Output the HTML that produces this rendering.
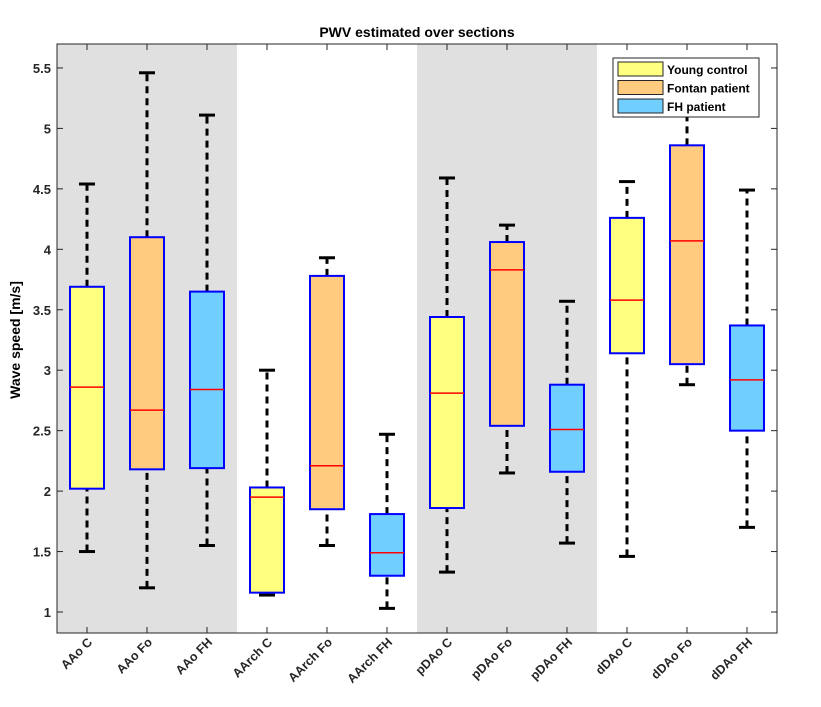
<!DOCTYPE html>
<html><head><meta charset="utf-8"><style>
body{margin:0;background:#fff;}
svg{display:block;font-family:"Liberation Sans",Arial,sans-serif;}
</style></head><body>
<svg id="chart" width="821" height="707" viewBox="0 0 821 707"></svg>
<script>
const categories=["AAo C","AAo Fo","AAo FH","AArch C","AArch Fo","AArch FH","pDAo C","pDAo Fo","pDAo FH","dDAo C","dDAo Fo","dDAo FH"];
const groups=["C","Fo","FH","C","Fo","FH","C","Fo","FH","C","Fo","FH"];
const whiskerLow=[1.5,1.2,1.55,1.14,1.55,1.03,1.33,2.15,1.57,1.46,2.88,1.70];
const q1=[2.02,2.18,2.19,1.16,1.85,1.30,1.86,2.54,2.16,3.14,3.05,2.50];
const median=[2.86,2.67,2.84,1.95,2.21,1.49,2.81,3.83,2.51,3.58,4.07,2.92];
const q3=[3.69,4.10,3.65,2.03,3.78,1.81,3.44,4.06,2.88,4.26,4.86,3.37];
const whiskerHigh=[4.54,5.46,5.11,3.0,3.93,2.47,4.59,4.20,3.57,4.56,5.3,4.49];
const yTicks=[1,1.5,2,2.5,3,3.5,4,4.5,5,5.5];
const fills={C:"#ffff80",Fo:"#ffcc7f",FH:"#70cfff"};
const legendLabels=["Young control","Fontan patient","FH patient"];
const legendKeys=["C","Fo","FH"];

const L=57,R=777,T=44,B=633;
const y=v=>612-(v-1)*120.9;
const x=i=>L+(i+0.5)*(R-L)/categories.length;
const S=document.getElementById('chart');
const NS="http://www.w3.org/2000/svg";
function mk(tag,at,parent){const e=document.createElementNS(NS,tag);for(const k in at)e.setAttribute(k,at[k]);(parent||S).appendChild(e);return e;}

for(let g=0;g<4;g+=2){
  const r=mk('rect',{x:x(g*3)-30,y:T,width:180,height:B-T,fill:"#e0e0e0"});
  
  
}
const ax=mk('rect',{x:L,y:T,width:R-L,height:B-T,fill:"none",stroke:"#262626","stroke-width":1});


yTicks.forEach(t=>{
  mk('line',{x1:L,x2:L+6,y1:y(t),y2:y(t),stroke:"#262626"});
  mk('line',{x1:R,x2:R-6,y1:y(t),y2:y(t),stroke:"#262626"});
  const tx=mk('text',{x:L-6,y:y(t)+5,"text-anchor":"end","font-size":13,"font-weight":"bold",fill:"#262626"});
  tx.textContent=String(t);
  
  
});
categories.forEach((c,i)=>{
  const cx=x(i),hw=17,cw=8;
  const g=mk('g',{});
  
  
  mk('line',{x1:cx,x2:cx,y1:y(whiskerLow[i]),y2:y(q1[i]),stroke:"#000","stroke-width":3,"stroke-dasharray":"7,5"},g);
  mk('line',{x1:cx,x2:cx,y1:y(q3[i]),y2:y(whiskerHigh[i]),stroke:"#000","stroke-width":3,"stroke-dasharray":"7,5"},g);
  mk('line',{x1:cx-cw,x2:cx+cw,y1:y(whiskerLow[i]),y2:y(whiskerLow[i]),stroke:"#000","stroke-width":3},g);
  mk('line',{x1:cx-cw,x2:cx+cw,y1:y(whiskerHigh[i]),y2:y(whiskerHigh[i]),stroke:"#000","stroke-width":3},g);
  mk('rect',{x:cx-hw,y:y(q3[i]),width:2*hw,height:y(q1[i])-y(q3[i]),fill:fills[groups[i]],stroke:"#0000ff","stroke-width":2},g);
  mk('line',{x1:cx-hw,x2:cx+hw,y1:y(median[i]),y2:y(median[i]),stroke:"#ff0000","stroke-width":1.5},g);
  mk('line',{x1:cx,x2:cx,y1:T,y2:T+6,stroke:"#262626"});
  mk('line',{x1:cx,x2:cx,y1:B,y2:B-6,stroke:"#262626"});
  const tx=mk('text',{x:cx+6,y:B+10,"text-anchor":"end","font-size":12.5,"font-weight":"bold",fill:"#262626",transform:`rotate(-45 ${cx+6} ${B+10})`});
  tx.textContent=c;
  
  
});
const lg=mk('g',{});


mk('rect',{x:613,y:58,width:146,height:59,fill:"#fff",stroke:"#262626"},lg);
legendKeys.forEach((k,j)=>{
  const e=mk('g',{},lg);
  
  
  mk('rect',{x:618,y:62+j*18.5,width:45,height:14,fill:fills[k],stroke:"#262626"},e);
  const t=mk('text',{x:667,y:74+j*18.5,"font-size":12,"font-weight":"bold",fill:"#000"},e);
  t.textContent=legendLabels[j];
});
const ti=mk('text',{x:(L+R)/2,y:37,"text-anchor":"middle","font-size":14,"font-weight":"bold",fill:"#000"});
ti.textContent="PWV estimated over sections";


const yl=mk('text',{x:20,y:340,"text-anchor":"middle","font-size":14,"font-weight":"bold",fill:"#000",transform:"rotate(-90 20 340)"});
yl.textContent="Wave speed [m/s]";


</script>
</body></html>
